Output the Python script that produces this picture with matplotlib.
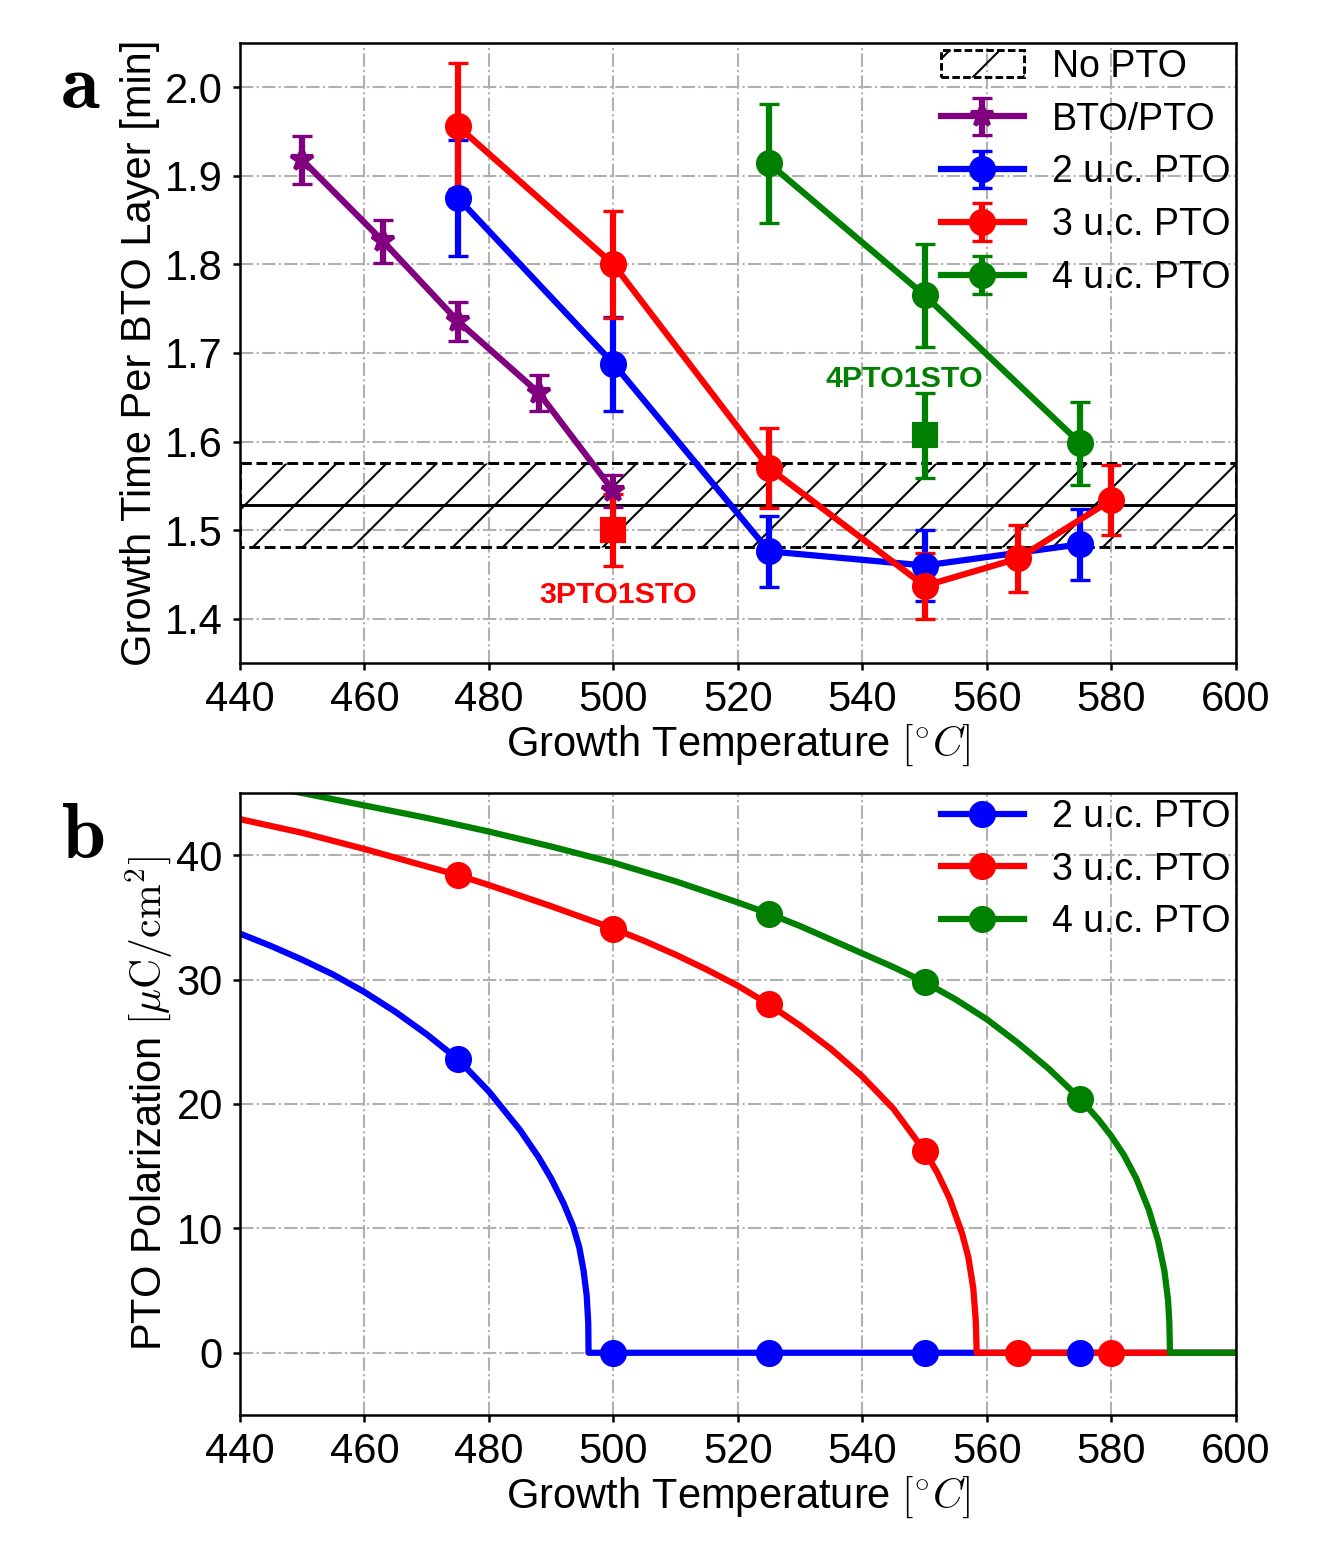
import matplotlib.pyplot as plt
from matplotlib.lines import Line2D

plt.rcParams['font.family'] = ['Liberation Sans', 'DejaVu Sans']
plt.rcParams['mathtext.fontset'] = 'cm'
plt.rcParams['hatch.linewidth'] = 0.5
plt.rcParams['axes.linewidth'] = 0.6

# ---- panel a: growth time per BTO layer ----
temps_bto = [450, 463, 475, 488, 500]
time_bto = [1.918, 1.826, 1.736, 1.655, 1.544]
err_bto = [0.027, 0.024, 0.022, 0.020, 0.018]

temps_2uc = [475, 500, 525, 550, 575]
time_2uc = [1.875, 1.688, 1.476, 1.460, 1.484]
err_2uc = [0.065, 0.053, 0.040, 0.040, 0.040]

temps_3uc = [475, 500, 525, 550, 565, 580]
time_3uc = [1.956, 1.800, 1.570, 1.437, 1.468, 1.534]
err_3uc = [0.071, 0.060, 0.045, 0.037, 0.038, 0.040]

temps_4uc = [525, 550, 575]
time_4uc = [1.914, 1.765, 1.598]
err_4uc = [0.067, 0.058, 0.047]

# superlattice points with STO spacer
temp_3sto, time_3sto, err_3sto = [500], [1.500], [0.041]
temp_4sto, time_4sto, err_4sto = [550], [1.607], [0.048]

# reference growth without PTO
no_pto_x = [440, 600]
no_pto_mean = 1.528
no_pto_err = 0.0475

# ---- panel b: PTO polarization curves ----
curve_T_2uc = [440, 445, 450, 455, 460, 465, 470, 475, 480, 485, 488, 490, 492,
               493.5, 494.5, 495.2, 495.7, 495.95, 496, 600]
curve_P_2uc = [33.7, 32.7, 31.6, 30.4, 29.0, 27.4, 25.6, 23.6, 21.0, 17.9, 15.7,
               14.0, 12.0, 10.2, 8.5, 6.6, 4.6, 2.4, 0, 0]

curve_T_3uc = [440, 450, 460, 470, 475, 480, 490, 500, 505, 510, 515, 520, 525,
               530, 535, 540, 545, 550, 552, 554, 556, 557, 557.8, 558.2, 558.35, 600]
curve_P_3uc = [42.9, 41.8, 40.5, 39.1, 38.4, 37.6, 35.9, 34.1, 33.1, 32.0, 30.8,
               29.5, 28.0, 26.3, 24.4, 22.2, 19.6, 16.2, 14.5, 12.4, 9.6, 7.7,
               5.2, 2.6, 0, 0]

curve_T_4uc = [440, 450, 460, 470, 480, 490, 500, 510, 520, 525, 530, 535, 540,
               545, 550, 555, 560, 565, 570, 575, 578, 580, 582, 584, 586, 587.5,
               588.5, 589.1, 589.3, 589.4, 600]
curve_P_4uc = [45.9, 45.0, 44.0, 43.0, 41.9, 40.7, 39.4, 37.9, 36.2, 35.3, 34.3,
               33.2, 32.1, 31.0, 29.8, 28.4, 26.8, 24.9, 22.8, 20.4, 18.7, 17.4,
               15.9, 14.0, 11.5, 9.0, 6.6, 4.2, 2.4, 0, 0]

pol_T_2uc = [475, 500, 525, 550, 575]
pol_P_2uc = [23.6, 0, 0, 0, 0]
pol_T_3uc = [475, 500, 525, 550, 565, 580]
pol_P_3uc = [38.4, 34.1, 28.0, 16.2, 0, 0]
pol_T_4uc = [525, 550, 575]
pol_P_4uc = [35.3, 29.8, 20.4]

labels = ['2 u.c. PTO', '3 u.c. PTO', '4 u.c. PTO']
colors = ['blue', 'red', 'green']

fig = plt.figure(figsize=(1325 / 300, 1558 / 300), dpi=300)
ax1 = fig.add_axes([0.1811, 0.5745, 0.7517, 0.3979])
ax2 = fig.add_axes([0.1811, 0.0918, 0.7517, 0.3992])

lw = 1.5
ms = 5.5
eb = dict(lw=lw, ms=ms, capsize=2.5, capthick=0.8, elinewidth=lw)
leg_kw = dict(loc='upper right', frameon=False, fontsize=9, borderaxespad=0.05,
              borderpad=0.1, labelspacing=0.45, handlelength=2.2, handletextpad=0.75)

# panel a
ax1.fill_between(no_pto_x, no_pto_mean - no_pto_err, no_pto_mean + no_pto_err,
                 facecolor='none', edgecolor='black', hatch='//', linestyle='--',
                 linewidth=0.7, label='No PTO')
ax1.axhline(no_pto_mean, color='black', lw=0.7)

ax1.errorbar(temps_bto, time_bto, yerr=err_bto, color='purple', marker='*',
             label='BTO/PTO', **eb)
ax1.errorbar(temps_2uc, time_2uc, yerr=err_2uc, color='blue', marker='o',
             label='2 u.c. PTO', **eb)
ax1.errorbar(temps_3uc, time_3uc, yerr=err_3uc, color='red', marker='o',
             label='3 u.c. PTO', **eb)
ax1.errorbar(temps_4uc, time_4uc, yerr=err_4uc, color='green', marker='o',
             label='4 u.c. PTO', **eb)
ax1.errorbar(temp_3sto, time_3sto, yerr=err_3sto, color='red', marker='s', **eb)
ax1.errorbar(temp_4sto, time_4sto, yerr=err_4sto, color='green', marker='s', **eb)

ax1.text(500.7, 1.427, '3PTO1STO', color='red', fontsize=7.3, fontweight='bold',
         ha='center', va='center')
ax1.text(546.7, 1.671, '4PTO1STO', color='green', fontsize=7.3, fontweight='bold',
         ha='center', va='center')

ax1.set_xlim(440, 600)
ax1.set_ylim(1.35, 2.05)
ax1.set_yticks([1.4, 1.5, 1.6, 1.7, 1.8, 1.9, 2.0])
ax1.set_ylabel('Growth Time Per BTO Layer [min]', fontsize=10, labelpad=1.1)
ax1.legend(**leg_kw)

# panel b
for T, P, c in zip([curve_T_2uc, curve_T_3uc, curve_T_4uc],
                   [curve_P_2uc, curve_P_3uc, curve_P_4uc], colors):
    ax2.plot(T, P, color=c, lw=lw)
for T, P, c in zip([pol_T_2uc, pol_T_3uc, pol_T_4uc],
                   [pol_P_2uc, pol_P_3uc, pol_P_4uc], colors):
    ax2.plot(T, P, 'o', color=c, ms=ms, zorder=3)

handles = [Line2D([], [], color=c, lw=lw, marker='o', ms=ms) for c in colors]
ax2.legend(handles, labels, **leg_kw)
ax2.set_xlim(440, 600)
ax2.set_ylim(-5, 45)
ax2.set_yticks([0, 10, 20, 30, 40])
ax2.set_ylabel(r'PTO Polarization $[\mu\mathrm{C/cm^2}]$', fontsize=10, labelpad=0.4)

for ax in (ax1, ax2):
    ax.set_xticks(range(440, 601, 20))
    ax.set_xlabel(r'Growth Temperature $[^{\circ}C]$', fontsize=10, labelpad=0.6)
    ax.grid(True, linestyle='-.', color='#b0b0b0', linewidth=0.5)
    ax.set_axisbelow(True)
    ax.tick_params(labelsize=10, length=1.6, width=0.6, pad=2.5)

fig.text(0.0604, 0.9307, r'$\mathbf{a}$', fontsize=19, ha='center', va='baseline')
fig.text(0.0626, 0.4493, r'$\mathbf{b}$', fontsize=19, ha='center', va='baseline')

fig.savefig('out.png', dpi=300)
